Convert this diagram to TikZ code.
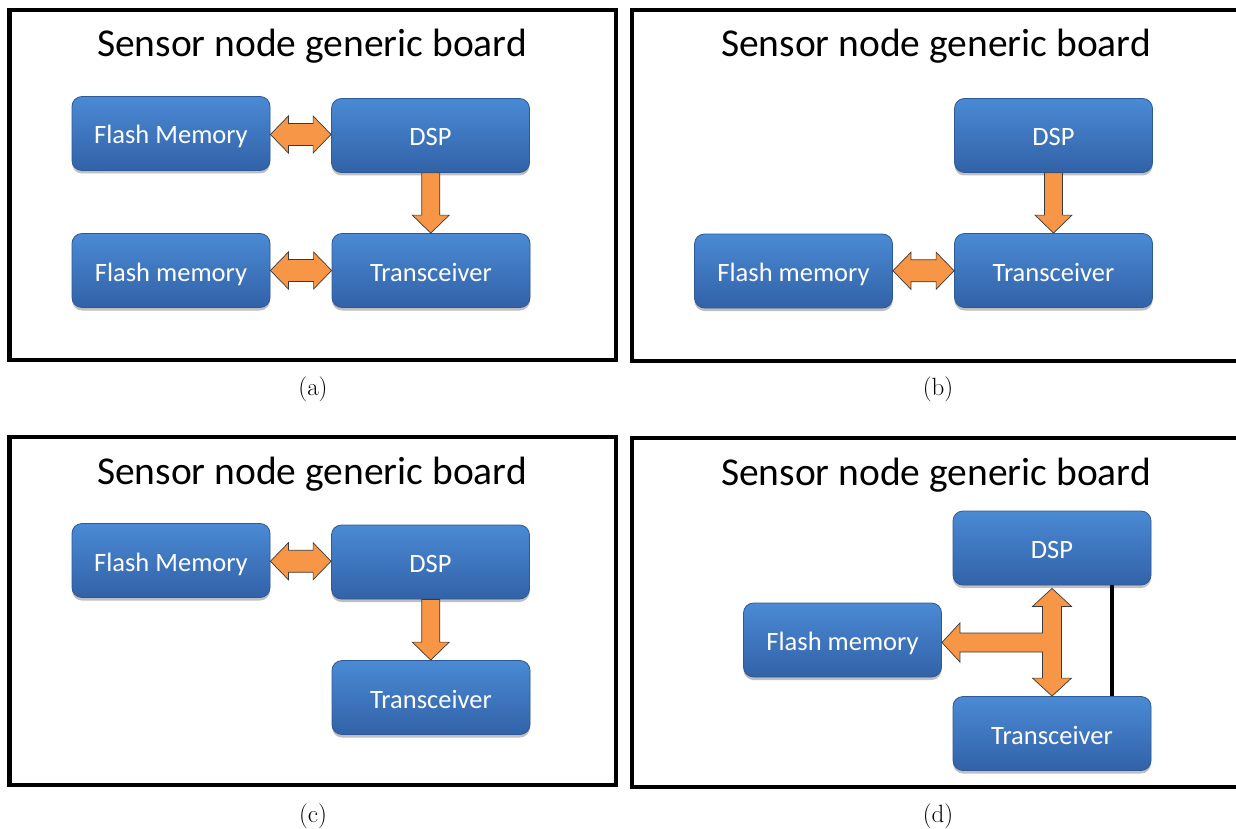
\documentclass[tikz,border=0pt]{standalone}
\usepackage{fontspec}
\newfontfamily\calib{Carlito}
\usetikzlibrary{calc,shadows}
\definecolor{boxtop}{HTML}{4A8AD4}
\definecolor{boxbot}{HTML}{3262A8}
\definecolor{boxedge}{HTML}{2D5A96}
\definecolor{arrorange}{HTML}{F79646}
\definecolor{arredge}{HTML}{3A3A3A}
\tikzset{
  blk/.style={rounded corners=10pt, minimum width=198pt, minimum height=74pt, inner sep=0pt,
    top color=boxtop, bottom color=boxbot, draw=boxedge, line width=0.8pt,
    drop shadow={shadow xshift=0pt, shadow yshift=-3pt, opacity=0.25, fill=black},
    text=white, font=\calib\fontsize{26.5}{30}\selectfont, text height=21pt, text depth=0pt},
  panelframe/.style={draw=black, line width=4.5pt},
  ttl/.style={font=\calib\fontsize{39.5}{46}\selectfont, anchor=base, inner sep=0pt},
  captxt/.style={font=\fontsize{25}{30}\selectfont, inner sep=0pt},
  barrow/.style={fill=arrorange, draw=arredge, line width=0.7pt, line join=miter},
  wire/.style={draw=black, line width=4pt}
}
\newcommand\hdarrow[2]{%
  \path[barrow] let \p1=(#1.east), \p2=(#2.west), \p3=($(#1.east)!0.5!(#2.west)$) in
  (\x1,\y3) -- ({\x1+18pt},{\y3+18.5pt}) -- ({\x1+18pt},{\y3+11pt}) -- ({\x2-18pt},{\y3+11pt})
  -- ({\x2-18pt},{\y3+18.5pt}) -- (\x2,\y3) -- ({\x2-18pt},{\y3-18.5pt}) -- ({\x2-18pt},{\y3-11pt})
  -- ({\x1+18pt},{\y3-11pt}) -- ({\x1+18pt},{\y3-18.5pt}) -- cycle;}
\newcommand\vdownarrow[2]{%
  \path[barrow] let \p1=(#1.south), \p2=(#2.north), \p3=($(#1.south)!0.5!(#2.north)$) in
  ({\x3-9pt},\y1) -- ({\x3+9pt},\y1) -- ({\x3+9pt},{\y2+18pt}) -- ({\x3+18.5pt},{\y2+18pt})
  -- (\x3,\y2) -- ({\x3-18.5pt},{\y2+18pt}) -- ({\x3-9pt},{\y2+18pt}) -- cycle;}
\begin{document}
\begin{tikzpicture}[x=1pt,y=-1pt]
\useasboundingbox (0,0) rectangle (1236,829);
\fill[white] (0,0) rectangle (1236,829);
% frames
\draw[panelframe] (9.5,10) rectangle (616,360);
\draw[panelframe] (632,10) rectangle (1246,361);
\draw[panelframe] (9.5,437) rectangle (616,785);
\draw[panelframe] (632,438) rectangle (1246,787);
% titles
\node[ttl] (ta) at (312,57) {Sensor node generic board};
\node[ttl] (tb) at (936,57) {Sensor node generic board};
\node[ttl] (tc) at (312,484) {Sensor node generic board};
\node[ttl] (td) at (936,485) {Sensor node generic board};
% captions
\node[captxt] (ca) at (313,389) {(a)};
\node[captxt] (cb) at (938,389) {(b)};
\node[captxt] (cc) at (313,816) {(c)};
\node[captxt] (cd) at (938,816) {(d)};
% panel a
\node[blk] (afm1) at (171,133.5) {Flash Memory};
\node[blk] (adsp) at (430.5,135.5) {DSP};
\node[blk] (afm2) at (171,270.5) {Flash memory};
\node[blk] (atr) at (431,270.5) {Transceiver};
\hdarrow{afm1}{adsp}
\vdownarrow{adsp}{atr}
\hdarrow{afm2}{atr}
% panel b
\node[blk] (bdsp) at (1053.5,135.5) {DSP};
\node[blk] (btr) at (1053.5,270.5) {Transceiver};
\node[blk] (bfm) at (793.5,271) {Flash memory};
\vdownarrow{bdsp}{btr}
\hdarrow{bfm}{btr}
% panel c
\node[blk] (cfm) at (171,560.5) {Flash Memory};
\node[blk] (cdsp) at (430.5,562) {DSP};
\node[blk] (ctr) at (431,697.5) {Transceiver};
\hdarrow{cfm}{cdsp}
\vdownarrow{cdsp}{ctr}
% panel d
\node[blk] (ddsp) at (1052,548) {DSP};
\node[blk] (dfm) at (842.5,640) {Flash memory};
\node[blk] (dtr) at (1052,733.5) {Transceiver};
\draw[wire] ([xshift=60pt]ddsp.south) -- ([xshift=60pt]dtr.north);
\path[barrow] let \p1=(ddsp.south), \p2=(dtr.north), \p3=(dfm.east) in
  (\x1,{\y1-3pt}) -- ({\x1+19.5pt},{\y1-21pt}) -- ({\x1+9.5pt},{\y1-21pt})
  -- ({\x1+9.5pt},{\y2+18pt}) -- ({\x1+19.5pt},{\y2+18pt}) -- (\x1,\y2)
  -- ({\x1-19.5pt},{\y2+18pt}) -- ({\x1-9.5pt},{\y2+18pt})
  -- ({\x1-9.5pt},{\y3-12pt}) -- ({\x3+18pt},{\y3-12pt}) -- ({\x3+18pt},{\y3-22pt})
  -- ({\x3},{\y3-2.5pt}) -- ({\x3+18pt},{\y3+17pt}) -- ({\x3+18pt},{\y3+7pt})
  -- ({\x1-9.5pt},{\y3+7pt}) -- ({\x1-9.5pt},{\y1-21pt}) -- ({\x1-19.5pt},{\y1-21pt}) -- cycle;
\end{tikzpicture}
\end{document}
